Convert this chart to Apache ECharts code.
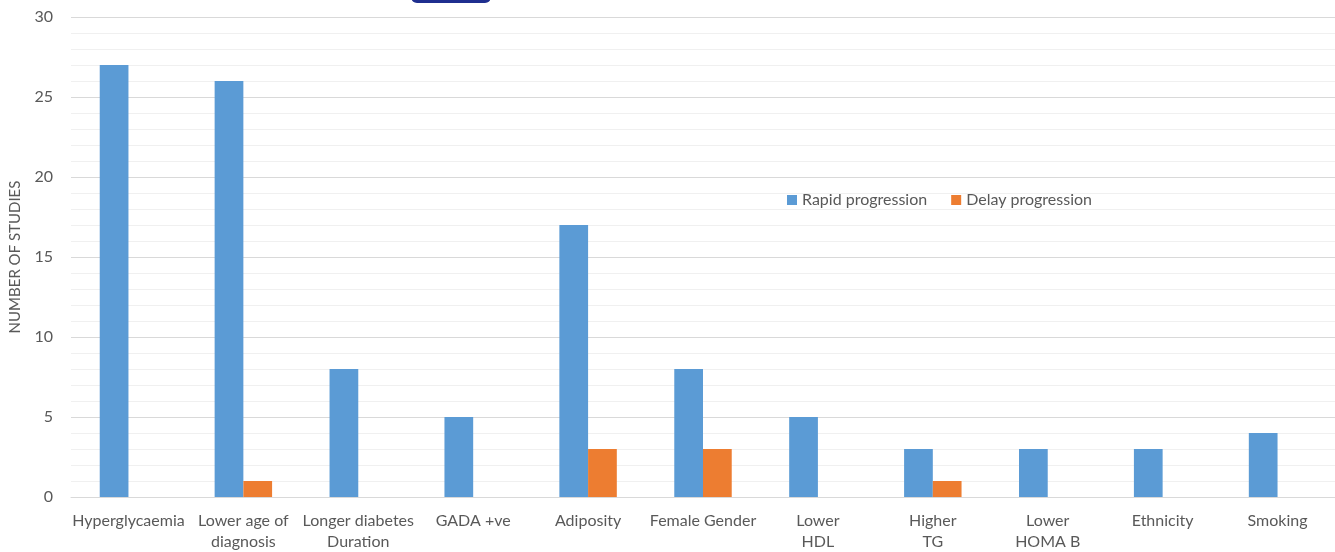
<!DOCTYPE html>
<html>
<head>
<meta charset="utf-8">
<script src="https://cdn.jsdelivr.net/npm/echarts@6/dist/echarts.min.js"></script>
<style>html,body{margin:0;padding:0;background:#fff;overflow:hidden;}#c{width:1335px;height:552px;}</style>
</head>
<body>
<div id="c"></div>
<script>
const categories = ["Hyperglycaemia", "Lower age of\ndiagnosis", "Longer diabetes\nDuration", "GADA +ve", "Adiposity", "Female Gender", "Lower\nHDL", "Higher\nTG", "Lower\nHOMA B", "Ethnicity", "Smoking"];
const rapid = [27, 26, 8, 5, 17, 8, 5, 3, 3, 3, 4];
const delay = [0, 1, 0, 0, 3, 3, 0, 1, 0, 0, 0];
const yTicks = [0, 5, 10, 15, 20, 25, 30];

const chart = echarts.init(document.getElementById('c'));
const font = 'Lato, "Open Sans", sans-serif';
chart.setOption({
  animation: false,
  textStyle: { fontFamily: font },
  grid: { left: 67, right: 0, top: 17, bottom: 54, containLabel: false },
  legend: {
    left: 782, top: 187, itemWidth: 10, itemHeight: 10, itemGap: 24,
    icon: 'rect',
    textStyle: { fontSize: 16, color: '#595959', fontFamily: font },
    data: ['Rapid progression', 'Delay progression']
  },
  graphic: [{
    type: 'rect', shape: { x: 411, y: -12, width: 80, height: 15, r: 6 },
    style: { fill: '#1f2f8f' }
  }],
  xAxis: {
    type: 'category', data: categories,
    axisLine: { lineStyle: { color: '#d9d9d9' } },
    axisTick: { show: false },
    axisLabel: { fontSize: 16, color: '#595959', lineHeight: 21, margin: 13, interval: 0, fontFamily: font }
  },
  yAxis: {
    type: 'value', min: yTicks[0], max: yTicks[yTicks.length - 1], interval: 5,
    name: 'NUMBER OF STUDIES', nameLocation: 'middle', nameGap: 48, nameRotate: 90,
    nameTextStyle: { fontSize: 15, color: '#595959', fontFamily: font },
    axisLine: { show: false }, axisTick: { show: false },
    axisLabel: { fontSize: 16, color: '#595959', margin: 18, fontFamily: font },
    splitLine: { lineStyle: { color: '#d9d9d9', width: 1 } },
    minorTick: { show: false, splitNumber: 5 },
    minorSplitLine: { show: true, lineStyle: { color: '#f0f0f0', width: 1 } }
  },
  series: [
    { name: 'Rapid progression', type: 'bar', data: rapid, barWidth: '25%', barGap: '0%', itemStyle: { color: '#5B9BD5' } },
    { name: 'Delay progression', type: 'bar', data: delay, barWidth: '25%', barGap: '0%', itemStyle: { color: '#ED7D31' } }
  ]
});
</script>
</body>
</html>
